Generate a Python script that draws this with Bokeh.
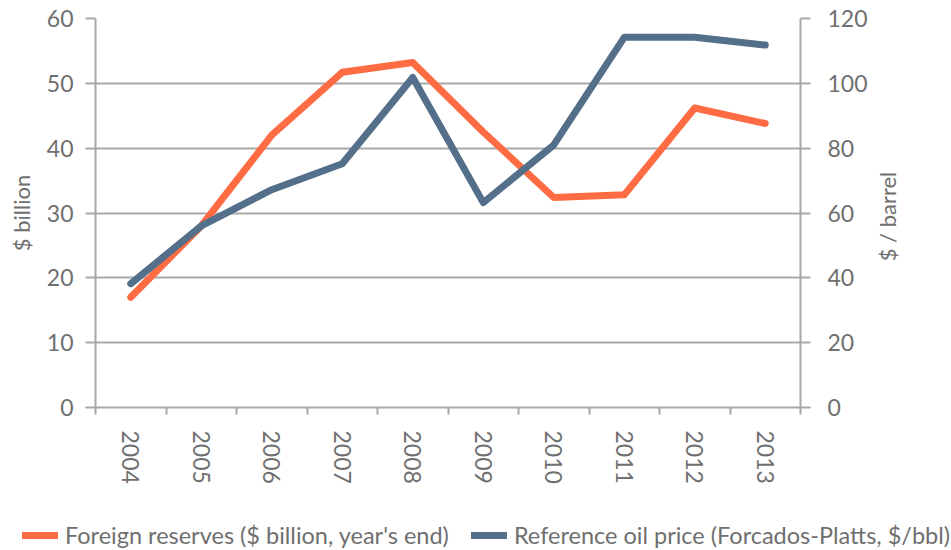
import math
from bokeh.plotting import figure
from bokeh.layouts import row
from bokeh.models import (Range1d, LinearAxis, FixedTicker, Legend, LegendItem, Label)
from bokeh.embed import file_html
from bokeh.resources import INLINE

years = ["2004", "2005", "2006", "2007", "2008", "2009", "2010", "2011", "2012", "2013"]
reserves = [17.0, 28.0, 42.0, 51.7, 53.2, 42.5, 32.4, 32.8, 46.2, 43.8]
oil_price = [38.2, 56.0, 67.2, 75.2, 101.8, 63.2, 81.0, 114.2, 114.2, 111.8]
left_ticks = [0, 10, 20, 30, 40, 50, 60]
right_ticks = [0, 20, 40, 60, 80, 100, 120]
series_names = ["Foreign reserves ($ billion, year's end)",
                "Reference oil price (Forcados-Platts, $/bbl)"]

FONT = "Lato"
GREY_TXT = "#6f6f6f"
GRID = "#a8a8a8"
ORANGE = "#ff6c44"
BLUE = "#536f89"

xs = list(range(len(years)))

TOTAL_W = 950
W, H = 870, 506
FL, FT, FR, FB = 95, 18, 800, 407

p = figure(width=W, height=H, output_backend="svg", toolbar_location=None,
           x_range=Range1d(-0.5, len(years) - 0.5), y_range=Range1d(0, 60),
           min_border_left=FL, min_border_right=W - FR, min_border_top=FT, min_border_bottom=H - FB,
           y_axis_location=None, x_axis_location=None)
p.outline_line_color = None
p.extra_y_ranges = {"oil": Range1d(0, 120)}

# x axis: labels at centres, ticks at boundaries
xaxis = LinearAxis(ticker=FixedTicker(ticks=xs, minor_ticks=[i - 0.5 for i in range(len(years) + 1)]))
xaxis.major_label_overrides = {i: y for i, y in enumerate(years)}
xaxis.major_label_orientation = -math.pi / 2
xaxis.major_tick_out = 0
xaxis.major_tick_in = 0
xaxis.minor_tick_out = 7
xaxis.minor_tick_in = 0
xaxis.minor_tick_line_color = GRID
xaxis.minor_tick_line_width = 2
xaxis.axis_line_color = GRID
xaxis.axis_line_width = 2
xaxis.major_label_standoff = 16
xaxis.major_label_text_font = FONT
xaxis.major_label_text_font_size = "23px"
xaxis.major_label_text_color = GREY_TXT
p.add_layout(xaxis, "below")

def style_y(ax):
    ax.major_tick_out = 10
    ax.major_tick_in = 0
    ax.minor_tick_out = 0
    ax.minor_tick_in = 0
    ax.major_tick_line_color = GRID
    ax.major_tick_line_width = 2
    ax.axis_line_color = GRID
    ax.axis_line_width = 2
    ax.major_label_text_font = FONT
    ax.major_label_text_font_size = "23px"
    ax.major_label_text_color = GREY_TXT
    ax.axis_label_text_font = FONT
    ax.axis_label_text_font_size = "22px"
    ax.axis_label_text_font_style = "normal"
    ax.axis_label_text_color = GREY_TXT

yl = LinearAxis(ticker=FixedTicker(ticks=left_ticks), axis_label="$ billion")
style_y(yl)
yl.major_label_standoff = 12
yl.axis_label_standoff = 9
p.add_layout(yl, "left")

yr = LinearAxis(y_range_name="oil", ticker=FixedTicker(ticks=right_ticks))
style_y(yr)
yr.major_label_standoff = 17
p.add_layout(yr, "right")

p.xgrid.visible = False
p.ygrid.ticker = FixedTicker(ticks=left_ticks)
p.ygrid.grid_line_color = GRID
p.ygrid.grid_line_width = 2

p.line(xs, reserves, line_color=ORANGE, line_width=7, line_cap="round", line_join="round")
p.line(xs, oil_price, y_range_name="oil", line_color=BLUE, line_width=7,
       line_cap="round", line_join="round")

# narrow strip to the right holding the right-hand axis title (reads bottom to top)
RW = TOTAL_W - W
r = figure(width=RW, height=H, output_backend="svg", toolbar_location=None,
           x_range=Range1d(0, 1), y_range=Range1d(0, 1),
           min_border_left=0, min_border_right=0, min_border_top=FT, min_border_bottom=H - FB,
           x_axis_location=None, y_axis_location=None)
r.outline_line_color = None
r.grid.visible = False
r.add_layout(Label(x=887 - W, y=FB - 216, x_units="screen", y_units="screen", text="$ / barrel",
                   angle=math.pi / 2, text_align="center", text_baseline="middle",
                   text_font=FONT, text_font_size="22px", text_color=GREY_TXT))

# legend strip below the chart (separate root so its frame is not aligned to the chart's)
LH = 44
q = figure(width=TOTAL_W, height=LH, output_backend="svg", toolbar_location=None,
           x_range=Range1d(0, 1), y_range=Range1d(0, 1),
           min_border=0, x_axis_location=None, y_axis_location=None)
q.outline_line_color = None
q.grid.visible = False
l1 = q.line(x=[-5, -4], y=[-5, -4], line_color=ORANGE, line_width=7, line_cap="round")
l2 = q.line(x=[-5, -4], y=[-5, -4], line_color=BLUE, line_width=7, line_cap="round")
legend = Legend(items=[LegendItem(label=series_names[0], renderers=[l1]),
                       LegendItem(label=series_names[1], renderers=[l2])],
                orientation="horizontal", location=(22, 1),
                label_text_font=FONT, label_text_font_size="23.5px", label_text_color=GREY_TXT,
                glyph_width=36, glyph_height=24, spacing=22, padding=0, margin=0,
                label_standoff=7, border_line_color=None, background_fill_alpha=0)
q.add_layout(legend, "center")

open("out.html", "w").write(file_html([row(p, r, spacing=0), q], INLINE))
